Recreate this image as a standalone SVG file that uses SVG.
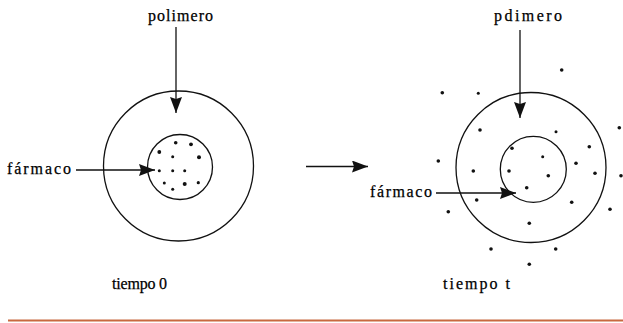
<svg xmlns="http://www.w3.org/2000/svg" width="623" height="323" viewBox="0 0 623 323">
<style>
.ring{fill:none;stroke:#111;stroke-width:1.3}
.ln{fill:none;stroke:#111;stroke-width:1.3}
.t{font-family:'Liberation Serif','Times New Roman',serif;font-size:16px;fill:#000;stroke:#000;stroke-width:0.25}
.d{fill:#111}
</style>
<defs>
<marker id="ah" markerUnits="userSpaceOnUse" markerWidth="17" markerHeight="13" refX="16" refY="6" orient="auto">
<path d="M0,0 L16,6 L0,12 L2,6 z" fill="#111"/>
</marker>
</defs>
<rect width="623" height="323" fill="#fff"/>
<g id="left-particle">
<circle class="ring" cx="178.5" cy="166" r="75"/>
<circle class="ring" cx="180" cy="167" r="32.5"/>
<g class="d">
<circle cx="175.7" cy="142.7" r="1.8"/><circle cx="191" cy="144.3" r="1.9"/>
<circle cx="159.3" cy="152" r="1.9"/><circle cx="172.7" cy="156.7" r="1.5"/>
<circle cx="199" cy="157.3" r="2"/><circle cx="159.3" cy="170.7" r="1.5"/>
<circle cx="172.7" cy="170.7" r="1.5"/><circle cx="184.7" cy="170.7" r="1.5"/>
<circle cx="164.3" cy="183" r="1.5"/><circle cx="172.7" cy="189.3" r="1.5"/>
<circle cx="184.7" cy="184" r="2"/><circle cx="198.3" cy="182.7" r="1.6"/>
</g>
</g>
<g id="right-particle">
<circle class="ring" cx="531" cy="167.5" r="75"/>
<circle class="ring" cx="533.3" cy="169.3" r="33"/>
<g class="d">
<circle cx="561.7" cy="70" r="1.8"/><circle cx="442.3" cy="92.7" r="1.8"/>
<circle cx="478.3" cy="93.3" r="1.5"/><circle cx="480" cy="130" r="1.8"/>
<circle cx="556" cy="131.7" r="1.5"/><circle cx="619.3" cy="127.7" r="1.8"/>
<circle cx="512" cy="148.3" r="1.8"/><circle cx="589.3" cy="146.7" r="1.8"/>
<circle cx="542.7" cy="156.7" r="1.5"/><circle cx="438.3" cy="161" r="1.8"/>
<circle cx="576" cy="163.3" r="1.8"/><circle cx="473.3" cy="171" r="1.8"/>
<circle cx="509" cy="171" r="1.8"/><circle cx="548.3" cy="175.7" r="1.8"/>
<circle cx="595" cy="173.3" r="1.8"/><circle cx="621" cy="175.7" r="1.8"/>
<circle cx="526.7" cy="187.7" r="1.8"/><circle cx="476.7" cy="200" r="1.8"/>
<circle cx="571.7" cy="202.3" r="1.8"/><circle cx="448.3" cy="211.7" r="1.8"/>
<circle cx="610" cy="209.3" r="1.8"/><circle cx="529.3" cy="223.3" r="1.8"/>
<circle cx="491" cy="249" r="1.8"/><circle cx="555.7" cy="249" r="1.8"/>
<circle cx="529.3" cy="264.3" r="1.8"/>
</g>
</g>
<g id="label-polimero-left"><text class="t" x="148" y="21" textLength="65" lengthAdjust="spacing">polimero</text></g>
<g id="label-farmaco-left"><text class="t" x="7" y="174" textLength="64" lengthAdjust="spacing">fármaco</text></g>
<g id="label-polimero-right"><text class="t" x="494" y="21" textLength="68" lengthAdjust="spacing">pdimero</text></g>
<g id="label-farmaco-right"><text class="t" x="370" y="197" textLength="62" lengthAdjust="spacing">fármaco</text></g>
<g id="label-tiempo0"><text class="t" x="112" y="289" textLength="55" lengthAdjust="spacing">tiempo 0</text></g>
<g id="label-tiempot"><text class="t" x="443" y="289" textLength="67" lengthAdjust="spacing">tiempo t</text></g>
<g id="connectors">
<line class="ln" x1="176" y1="27" x2="176" y2="113" marker-end="url(#ah)"/>
<line class="ln" x1="76" y1="170" x2="155" y2="170" marker-end="url(#ah)"/>
<line class="ln" x1="306" y1="166.5" x2="368" y2="166.5" marker-end="url(#ah)"/>
<line class="ln" x1="520" y1="30" x2="520" y2="118" marker-end="url(#ah)"/>
<line class="ln" x1="436" y1="193" x2="516" y2="193" marker-end="url(#ah)"/>
</g>
<line x1="8" y1="320.5" x2="623" y2="320.5" stroke="#c8693f" stroke-width="2"/>
</svg>
